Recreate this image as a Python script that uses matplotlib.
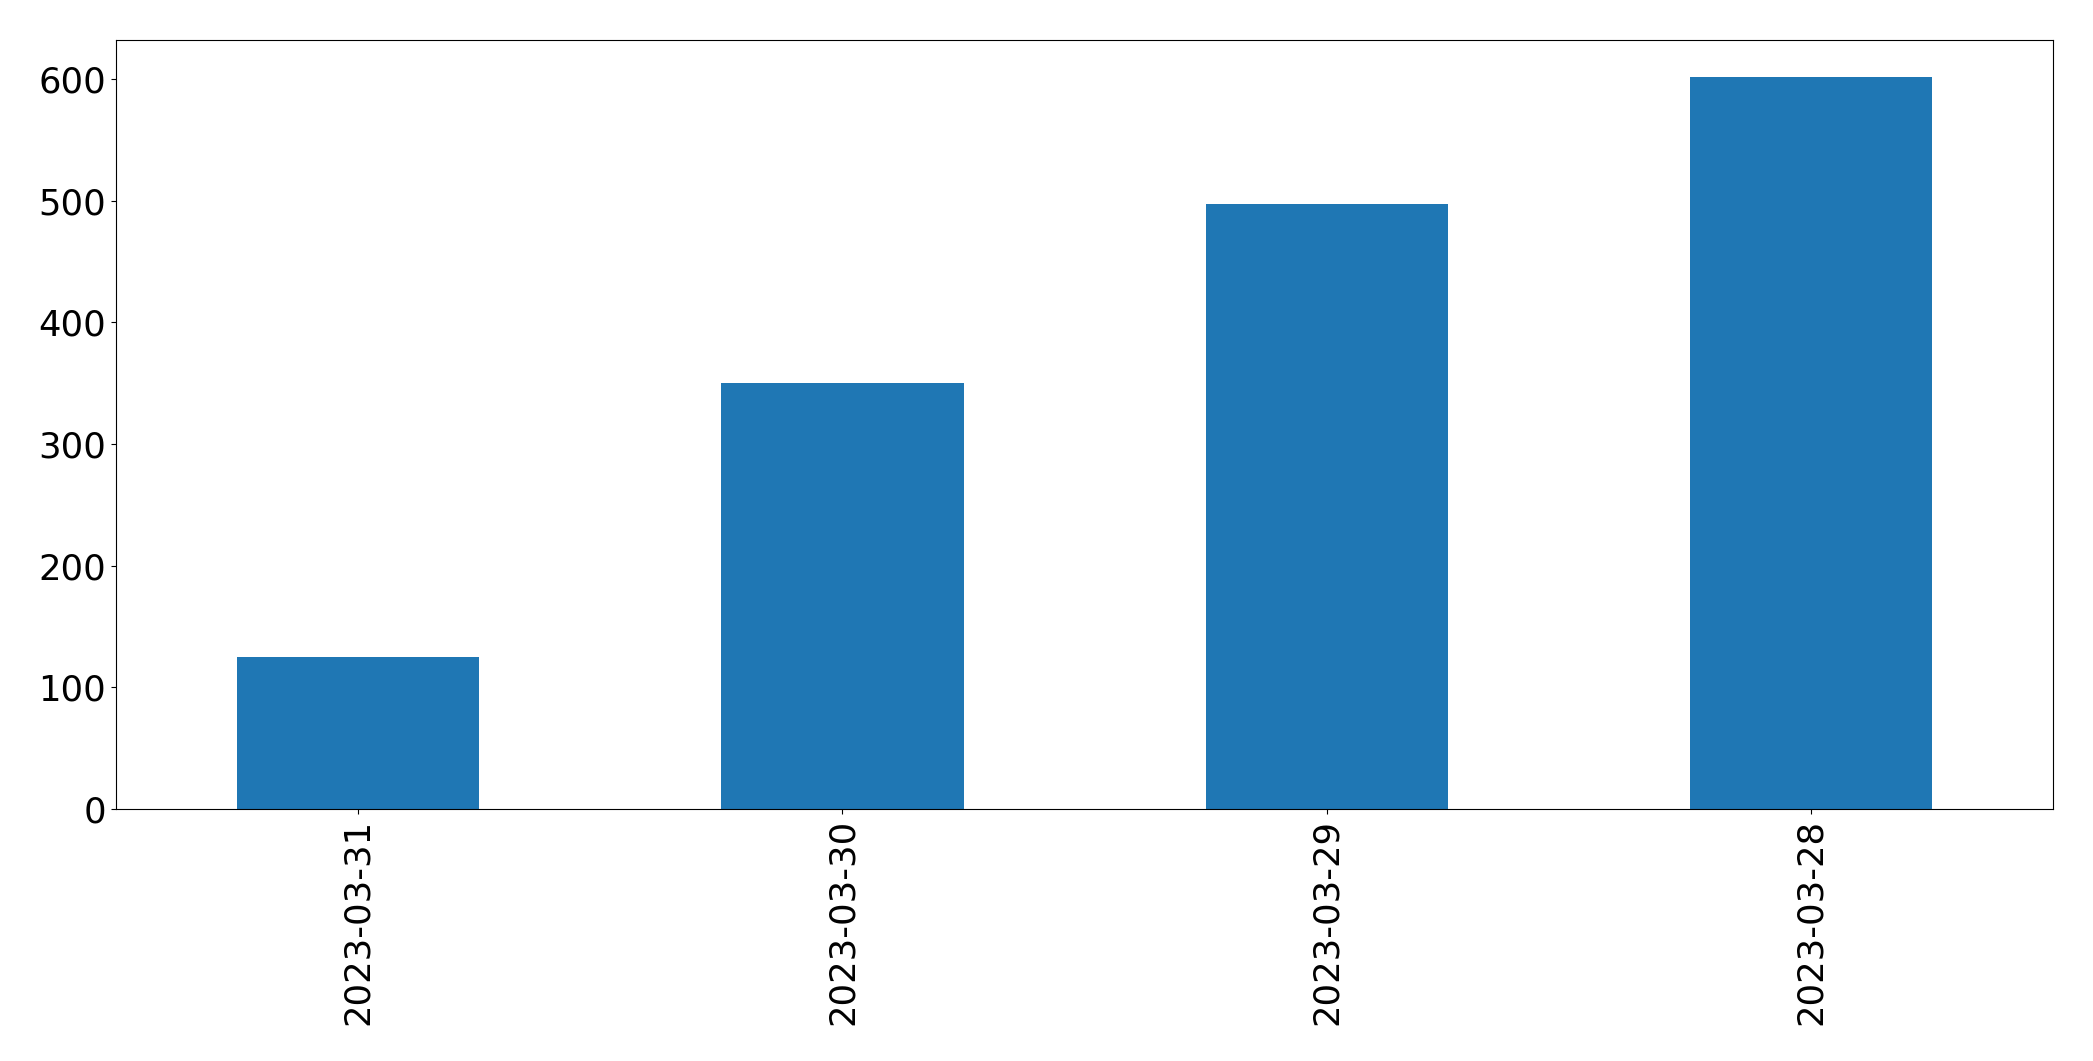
import matplotlib
matplotlib.use("Agg")
import matplotlib.pyplot as plt

# Values
dates = ["2023-03-31", "2023-03-30", "2023-03-29", "2023-03-28"]
counts = [125, 350, 497, 602]

def run():
    fig, ax = plt.subplots(figsize=(20.93, 10.61), dpi=100)
    fig.subplots_adjust(left=0.0554, right=0.981, top=0.9623, bottom=0.2375)
    xs = range(len(dates))
    ax.bar(xs, counts, width=0.5, color="#1f77b4")
    ax.set_xlim(-0.5, len(dates) - 0.5)
    ax.set_xticks(list(xs))
    ax.set_xticklabels(dates, rotation=90)
    ax.tick_params(labelsize=25.5)
    fig.savefig("out.png", dpi=100)

if __name__ == "__main__":
    run()
